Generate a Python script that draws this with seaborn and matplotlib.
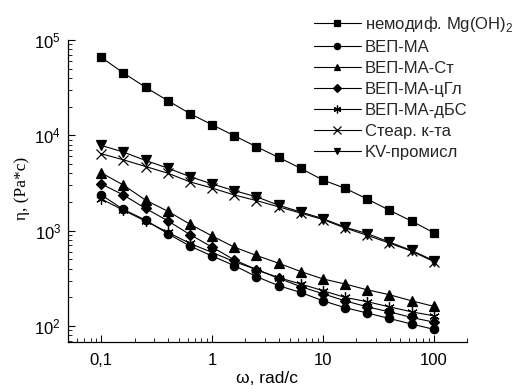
import matplotlib
matplotlib.use("Agg")
import matplotlib.pyplot as plt
import matplotlib.ticker as mticker
from matplotlib.lines import Line2D
import seaborn as sns

# frequency points, rad/c
omega = [0.1, 0.158, 0.251, 0.398, 0.631, 1.0, 1.58, 2.51, 3.98, 6.31,
         10.0, 15.8, 25.1, 39.8, 63.1, 100.0]

# viscosity values, Pa*c
eta_unmod = [65600, 45200, 31900, 23100, 16900, 12900, 9930, 7600, 5870, 4510,
             3400, 2790, 2150, 1640, 1260, 955]
eta_ma = [2370, 1670, 1290, 931, 689, 543, 431, 330, 265, 225,
          184, 156, 137, 120, 105, 92.5]
eta_st = [4040, 3010, 2090, 1600, 1170, 880, 673, 550, 456, 373,
          312, 276, 240, 213, 184, 161]
eta_cgl = [3090, 2370, 1710, 1270, 910, 673, 495, 391, 317, 259,
           218, 184, 159, 141, 123, 110]
eta_dbs = [2150, 1640, 1260, 962, 736, 591, 475, 391, 322, 276,
           235, 200, 180, 159, 141, 128]
eta_stear = [6410, 5540, 4710, 4010, 3250, 2800, 2370, 2070, 1780, 1530,
             1310, 1070, 894, 741, 611, 475]
eta_kv = [7840, 6680, 5450, 4530, 3690, 3090, 2630, 2270, 1850, 1570,
          1340, 1090, 932, 760, 620, 486]

labels = ["немодиф. Mg(OH)$_\\mathdefault{2}$", "ВЕП-МА", "ВЕП-МА-Ст", "ВЕП-МА-цГл",
          "ВЕП-МА-дБС", "Стеар. к-та", "KV-промисл"]
series = [eta_unmod, eta_ma, eta_st, eta_cgl, eta_dbs, eta_stear, eta_kv]
markers = ["s", "o", "^", "D", (6, 2, 0), "x", "v"]
msizes = [6, 6, 6.5, 5.5, 7.5, 7.5, 6.5]

sns.set_style("ticks")
plt.rcParams["font.family"] = ["Liberation Sans", "DejaVu Sans"]
plt.rcParams["font.size"] = 11

fig = plt.figure(figsize=(5.19, 3.92), dpi=100)
ax = fig.add_axes([68 / 519, 1 - 342 / 392, 399 / 519, 302 / 392])

handles = []
for vals, lab, mk, ms in zip(series, labels, markers, msizes):
    sns.lineplot(x=omega, y=vals, ax=ax, color="black", linewidth=0.8,
                 marker=mk, markersize=ms, markeredgecolor="black",
                 markeredgewidth=0.9, sort=False, legend=False)
    handles.append(Line2D([], [], color="black", linewidth=0.8, marker=mk,
                          markersize=ms * 0.75, markeredgewidth=0.9,
                          markerfacecolor="black", markeredgecolor="black"))

ax.set_xscale("log")
ax.set_yscale("log")
ax.set_xlim(0.05, 200)
ax.set_ylim(68, 1e5)

ax.xaxis.set_major_locator(mticker.FixedLocator([0.1, 1, 10, 100]))
ax.xaxis.set_major_formatter(mticker.FixedFormatter(["0,1", "1", "10", "100"]))
ax.xaxis.set_minor_locator(mticker.LogLocator(base=10, subs=range(2, 10)))
ax.xaxis.set_minor_formatter(mticker.NullFormatter())
ax.yaxis.set_minor_locator(mticker.LogLocator(base=10, subs=range(2, 10)))
ax.yaxis.set_minor_formatter(mticker.NullFormatter())

ax.tick_params(which="major", direction="in", length=5, width=0.8,
               labelsize=12, color="black", labelcolor="black", pad=5)
ax.tick_params(axis="x", which="major", pad=8)
ax.tick_params(which="minor", direction="in", length=3, width=0.6, color="black")
sns.despine(ax=ax)
for s in ["left", "bottom"]:
    ax.spines[s].set_color("black")
    ax.spines[s].set_linewidth(0.9)

ax.set_xlabel("ω, rad/c", fontsize=12.5, labelpad=2, color="black")
ax.set_ylabel("η, (Pa*c)", fontsize=12.5, family=["Liberation Serif"],
              color="black")
ax.yaxis.set_label_coords(-0.095, 0.51)

fig.legend(handles, labels, loc="upper left",
           bbox_to_anchor=(314 / 519, 1 - 14 / 392), frameon=False,
           fontsize=12, handlelength=2.8, handletextpad=0.25,
           labelspacing=0.36, borderpad=0, borderaxespad=0)

fig.savefig("out.png", dpi=100)
